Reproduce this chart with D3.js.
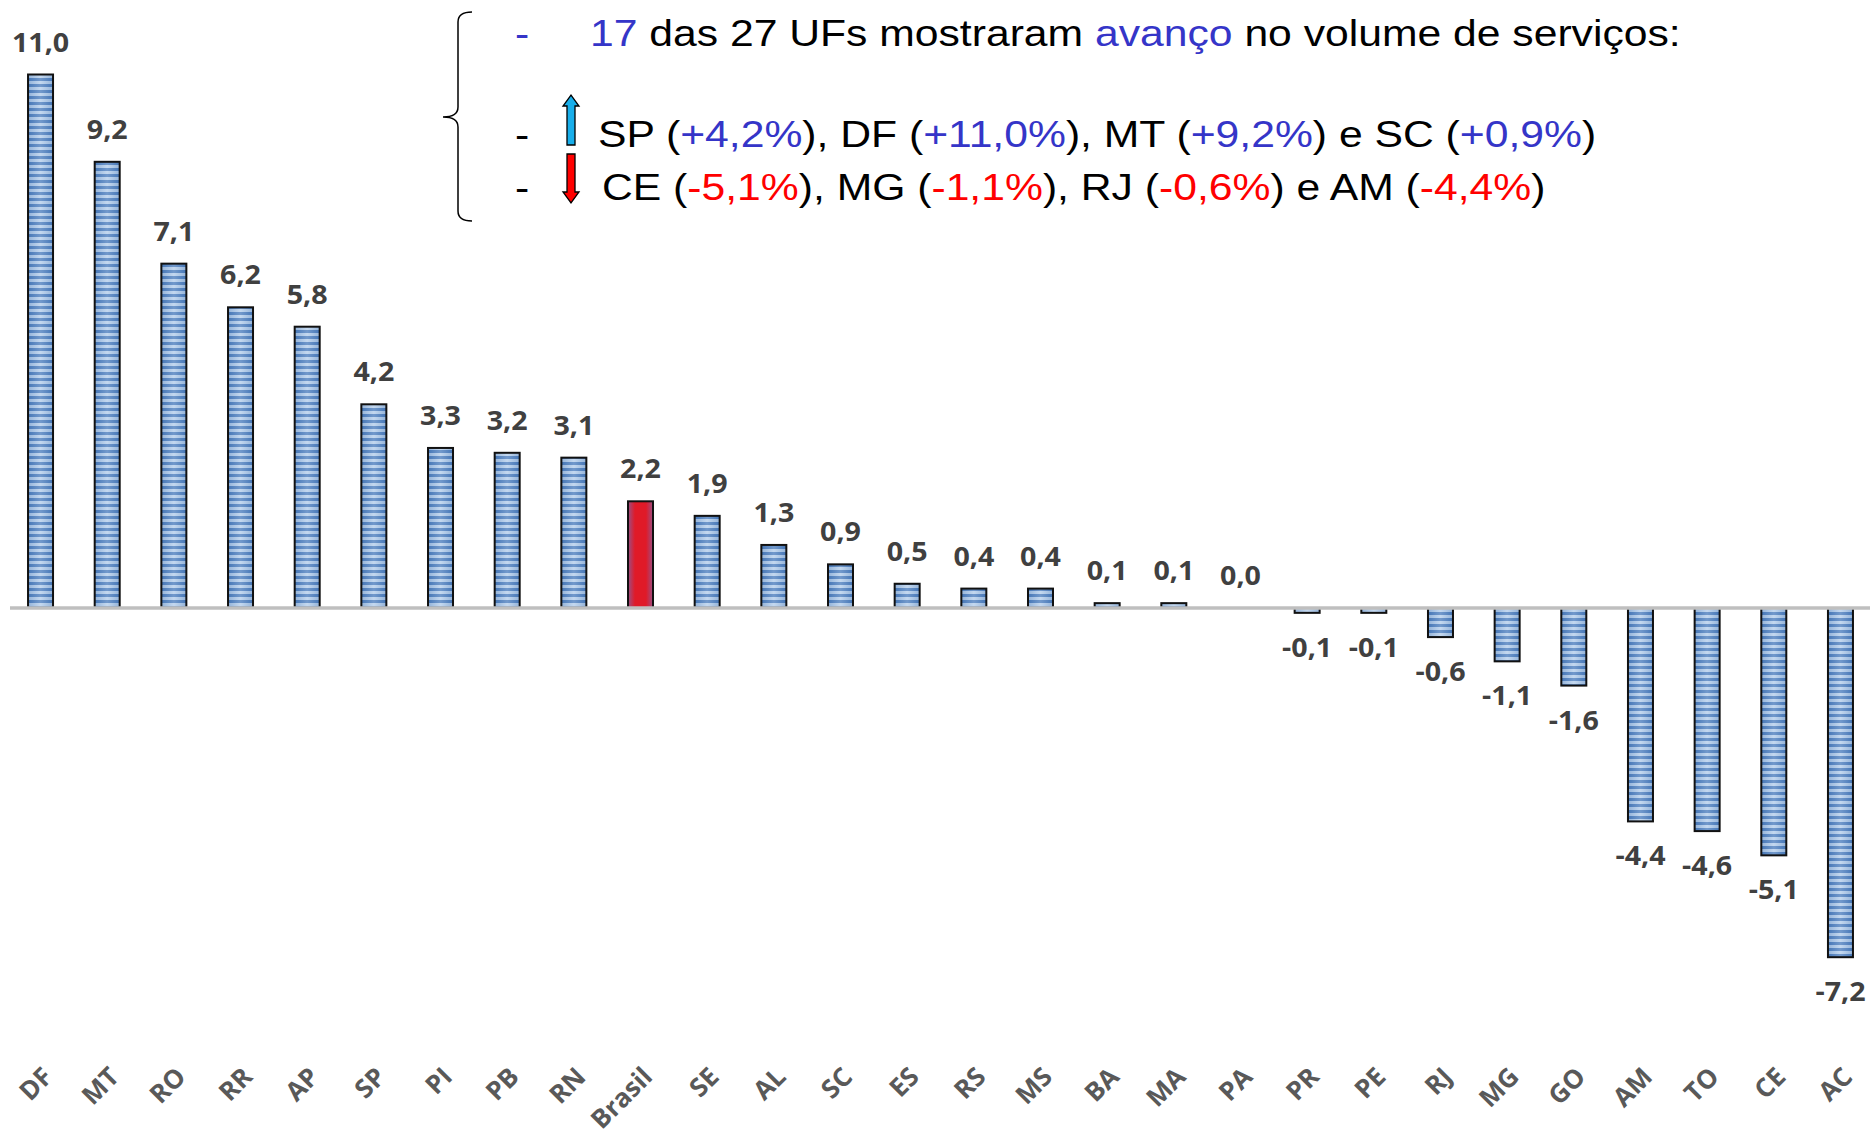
<!DOCTYPE html>
<html>
<head>
<meta charset="utf-8">
<script src="https://cdn.jsdelivr.net/npm/d3@7"></script>
<style>
  html, body { margin: 0; padding: 0; background: #fff; }
  svg { display: block; }
</style>
</head>
<body>
<svg id="chart" width="1870" height="1138"></svg>
<script>
// Volume de serviços por UF (variação %)
const categories = ["DF","MT","RO","RR","AP","SP","PI","PB","RN","Brasil","SE","AL","SC","ES","RS","MS","BA","MA","PA","PR","PE","RJ","MG","GO","AM","TO","CE","AC"];
const values = [11.0, 9.2, 7.1, 6.2, 5.8, 4.2, 3.3, 3.2, 3.1, 2.2, 1.9, 1.3, 0.9, 0.5, 0.4, 0.4, 0.1, 0.1, 0.0, -0.1, -0.1, -0.6, -1.1, -1.6, -4.4, -4.6, -5.1, -7.2];
const highlightCategory = "Brasil";

// Annotation lines: [text, color] segments
const annoLine1 = [["17", "#3535c8"], [" das 27 UFs mostraram ", "#000"], ["avanço", "#3535c8"], [" no volume de serviços:", "#000"]];
const annoLine2 = [["SP (", "#000"], ["+4,2%", "#3535c8"], ["), DF (", "#000"], ["+11,0%", "#3535c8"], ["), MT (", "#000"], ["+9,2%", "#3535c8"], [") e SC (", "#000"], ["+0,9%", "#3535c8"], [")", "#000"]];
const annoLine3 = [["CE (", "#000"], ["-5,1%", "#ff0000"], ["), MG (", "#000"], ["-1,1%", "#ff0000"], ["), RJ (", "#000"], ["-0,6%", "#ff0000"], [") e AM (", "#000"], ["-4,4%", "#ff0000"], [")", "#000"]];

const data = categories.map((c, i) => ({ cat: c, value: values[i] }));
const fmt = v => d3.format(".1f")(v).replace(".", ",").replace("\u2212", "-");

const svg = d3.select("#chart");
const defs = svg.append("defs");

// striped bar fill
const pat = defs.append("pattern")
  .attr("id", "stripes").attr("patternUnits", "userSpaceOnUse")
  .attr("width", 10).attr("height", 6);
pat.append("rect").attr("width", 10).attr("height", 6).attr("fill", "#4a7cbd");
pat.append("rect").attr("y", 3).attr("width", 10).attr("height", 3).attr("fill", "#b3cdeb");

// horizontal shading over bars
const shade = defs.append("linearGradient").attr("id", "shade").attr("x1", 0).attr("x2", 1).attr("y1", 0).attr("y2", 0);
shade.append("stop").attr("offset", "0%").attr("stop-color", "#2f5f9e").attr("stop-opacity", 0.25);
shade.append("stop").attr("offset", "50%").attr("stop-color", "#ffffff").attr("stop-opacity", 0.22);
shade.append("stop").attr("offset", "100%").attr("stop-color", "#2f5f9e").attr("stop-opacity", 0.25);

// red bar for the national total
const red = defs.append("linearGradient").attr("id", "redfill").attr("x1", 0).attr("x2", 1).attr("y1", 0).attr("y2", 0);
red.append("stop").attr("offset", "0%").attr("stop-color", "#9a4f86");
red.append("stop").attr("offset", "28%").attr("stop-color", "#e01a28");
red.append("stop").attr("offset", "72%").attr("stop-color", "#e01a28");
red.append("stop").attr("offset", "100%").attr("stop-color", "#9a4f86");

const x = d3.scaleBand()
  .domain(categories)
  .range([7.2, 1873.8])
  .paddingInner(0.625)
  .paddingOuter(0.3125);

const y = d3.scaleLinear()
  .domain([-7.2, 11])
  .range([608 + 7.2 * 48.5, 608 - 11 * 48.5]);

// bars
const bars = svg.append("g");
data.forEach(d => {
  if (d.value === 0) return;
  const top = y(Math.max(0, d.value));
  const h = Math.abs(y(d.value) - y(0));
  const isHi = d.cat === highlightCategory;
  bars.append("rect")
    .attr("x", x(d.cat)).attr("y", top)
    .attr("width", x.bandwidth()).attr("height", h)
    .attr("fill", isHi ? "url(#redfill)" : "url(#stripes)");
  if (!isHi) {
    bars.append("rect")
      .attr("x", x(d.cat)).attr("y", top)
      .attr("width", x.bandwidth()).attr("height", h)
      .attr("fill", "url(#shade)");
  }
  bars.append("rect")
    .attr("x", x(d.cat)).attr("y", top)
    .attr("width", x.bandwidth()).attr("height", h)
    .attr("fill", "none").attr("stroke", "#111").attr("stroke-width", 2);
});

// zero line
svg.append("line")
  .attr("x1", 10).attr("x2", 1870)
  .attr("y1", y(0)).attr("y2", y(0))
  .attr("stroke", "#bfbfbf").attr("stroke-width", 3.5);

// value labels
svg.append("g").selectAll("text").data(data).join("text")
  .attr("transform", d => {
    const cx = x(d.cat) + x.bandwidth() / 2;
    const yy = d.value >= 0 ? y(d.value) - 23 : y(d.value) + 44;
    return `translate(${cx},${yy}) scale(1.1,1)`;
  })
  .attr("text-anchor", "middle")
  .attr("font-family", "'Open Sans', sans-serif")
  .attr("font-weight", 700)
  .attr("font-size", 26)
  .attr("fill", "#404040")
  .text(d => fmt(d.value));

// category labels
const xAxis = d3.axisBottom(x).tickSize(0).tickPadding(0);
const gx = svg.append("g").attr("transform", "translate(0,1072)").call(xAxis);
gx.select(".domain").remove();
gx.selectAll("text")
  .attr("transform", "translate(7,0) rotate(-45)")
  .attr("text-anchor", "end")
  .attr("dy", "0.35em")
  .attr("y", 0)
  .attr("font-family", "'Open Sans', sans-serif")
  .attr("font-weight", 700)
  .attr("font-size", 26)
  .attr("fill", "#595959");

// annotation box
const anno = svg.append("g").attr("font-family", "'Liberation Sans', Arial, sans-serif");

anno.append("path")
  .attr("d", "M472,12 Q458,12 458,22 L458,107 Q458,117 443,117 Q458,117 458,127 L458,211 Q458,221 472,221")
  .attr("fill", "none").attr("stroke", "#000").attr("stroke-width", 1.5);

function annoText(segments, tx, ty) {
  const t = anno.append("text")
    .attr("transform", `translate(${tx},${ty}) scale(1.185,1)`)
    .attr("font-size", 36);
  segments.forEach(([s, c]) => t.append("tspan").attr("fill", c).text(s));
}
function dash(tx, ty, color) {
  anno.append("text")
    .attr("transform", `translate(${tx},${ty}) scale(1.185,1)`)
    .attr("font-size", 36).attr("fill", color).text("-");
}

dash(515, 46, "#3535c8");
annoText(annoLine1, 590, 46);
dash(515, 147, "#000");
annoText(annoLine2, 598, 147);
dash(515, 200, "#000");
annoText(annoLine3, 602, 200);

// up / down arrows
anno.append("polygon")
  .attr("points", "567,145 567,106 563,106 571,95 579,106 575,106 575,145")
  .attr("fill", "#18aeea").attr("stroke", "#000").attr("stroke-width", 1.3);
anno.append("polygon")
  .attr("points", "567,154 575,154 575,192 579,192 571,203 563,192 567,192")
  .attr("fill", "#ff0000").attr("stroke", "#000").attr("stroke-width", 1.3);
</script>
</body>
</html>
